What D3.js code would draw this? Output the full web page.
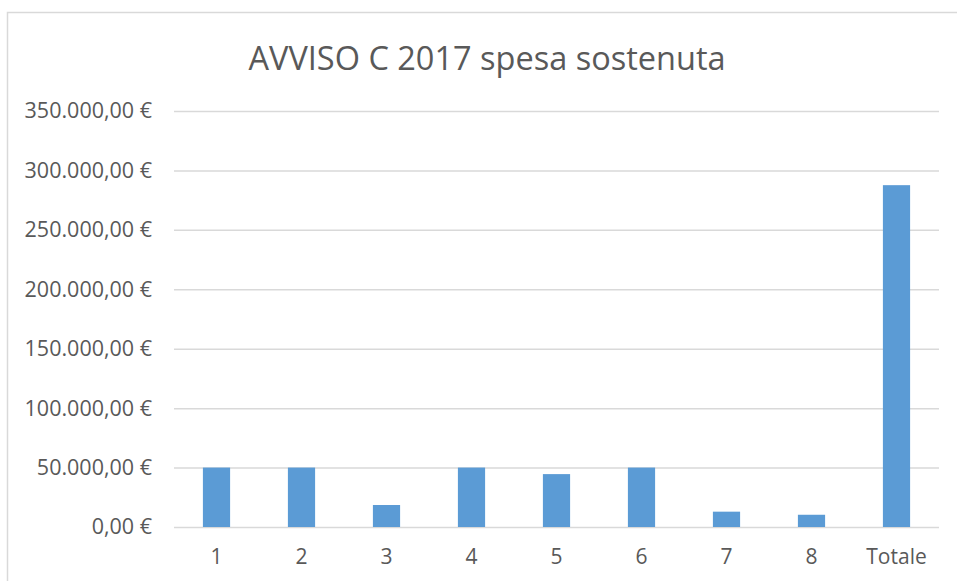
<!DOCTYPE html>
<html><head><meta charset="utf-8">
<script src="https://cdn.jsdelivr.net/npm/d3@7"></script>
<style>body{margin:0;background:#fff;} svg{display:block;}</style>
</head><body>
<svg id="c" width="957" height="581"></svg>
<script>
const categories = ["1","2","3","4","5","6","7","8","Totale"];
const values = [50000, 50000, 18500, 50000, 44500, 50000, 12900, 10300, 287600];
const yTicks = [0, 50000, 100000, 150000, 200000, 250000, 300000, 350000];
const title = "AVVISO C 2017 spesa sostenuta";

const svg = d3.select("#c");
const font = "'Open Sans', sans-serif";
const m = {left:174, right:939, top:111, bottom:527};

svg.append("rect").attr("x",7.5).attr("y",12.5).attr("width",1000).attr("height",1000)
  .attr("fill","#fff").attr("stroke","#d9d9d9").attr("stroke-width",1.5);

const x = d3.scaleBand().domain(categories).range([m.left, m.right]).paddingInner(0.68).paddingOuter(0.34);
const y = d3.scaleLinear().domain([0, 350000]).range([m.bottom, m.top]);

const fmt = v => d3.format(",.2f")(v).replace(/,/g,"#").replace(".",",").replace(/#/g,".") + " €";

const ya = svg.append("g").attr("transform",`translate(${m.left},0)`)
  .call(d3.axisLeft(y).tickValues(yTicks).tickSize(-(m.right-m.left)).tickPadding(22).tickFormat(fmt));
ya.select(".domain").remove();
ya.selectAll("line").attr("stroke","#d9d9d9").attr("stroke-width",1.5);
ya.selectAll("text").attr("fill","#595959").style("font-family",font).style("font-size","21.5px");

svg.append("g").selectAll("rect").data(values).join("rect")
  .attr("x",(d,i)=>x(categories[i])).attr("width",x.bandwidth())
  .attr("y",d=>y(d)).attr("height",d=>y(0)-y(d)).attr("fill","#5b9bd5");

const xa = svg.append("g").attr("transform",`translate(0,${m.bottom})`)
  .call(d3.axisBottom(x).tickSize(0).tickPadding(22));
xa.select(".domain").remove();
xa.selectAll("text").attr("fill","#595959").style("font-family",font).style("font-size","21px");

svg.append("text").attr("x",487).attr("y",70).attr("text-anchor","middle")
  .attr("fill","#595959").style("font-family",font).style("font-size","32.5px").text(title);
</script>
</body></html>
